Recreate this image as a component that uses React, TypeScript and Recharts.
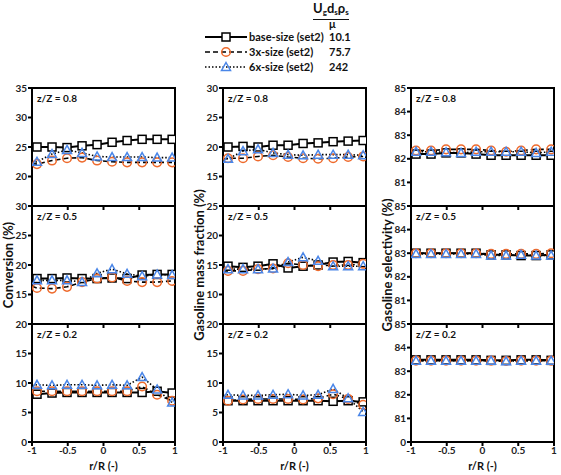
import React from 'react'
import { LineChart, Line, XAxis, YAxis, ReferenceArea } from 'recharts'

// radial positions (first entry is the wall, where the lines start without a marker)
const rPos = [-1, -0.93, -0.72, -0.51, -0.3, -0.09, 0.12, 0.33, 0.54, 0.75, 0.96]
const xTicks = [-1, -0.5, 0, 0.5, 1]

const conv08Base = [25.0, 25.0, 25.0, 24.9, 25.2, 25.4, 25.8, 26.1, 26.3, 26.3, 26.3]
const conv08X3 = [22.2, 22.1, 22.7, 23.1, 23.2, 22.7, 22.5, 22.4, 22.4, 22.4, 22.4]
const conv08X6 = [22.3, 22.5, 23.8, 24.5, 24.0, 23.4, 23.3, 23.3, 23.3, 23.2, 23.2]

const conv05Base = [17.7, 17.7, 17.7, 17.8, 17.7, 17.7, 17.8, 17.7, 18.3, 18.4, 18.4]
const conv05X3 = [16.4, 16.1, 16.0, 16.3, 17.1, 17.7, 17.9, 17.3, 17.1, 17.1, 17.3]
const conv05X6 = [17.3, 17.4, 17.4, 17.4, 17.1, 18.6, 19.3, 18.5, 18.1, 18.4, 18.3]

const conv02Base = [8.3, 8.1, 8.3, 8.4, 8.4, 8.4, 8.4, 8.4, 8.4, 8.6, 8.3]
const conv02X3 = [8.5, 8.6, 8.6, 8.6, 8.6, 8.6, 8.6, 8.6, 9.4, 8.0, 7.0]
const conv02X6 = [9.6, 9.7, 9.6, 9.7, 9.7, 9.6, 9.7, 9.6, 11.0, 8.9, 6.7]

const gmf08Base = [20.0, 20.0, 20.1, 20.0, 20.3, 20.3, 20.6, 20.7, 20.9, 21.0, 21.1]
const gmf08X3 = [17.9, 18.1, 18.1, 18.4, 18.6, 18.3, 18.1, 18.0, 18.1, 18.3, 18.4]
const gmf08X6 = [18.0, 18.0, 19.3, 19.6, 19.0, 18.7, 18.6, 18.7, 18.7, 18.7, 18.6]

const gmf05Base = [14.8, 14.8, 14.6, 14.8, 15.2, 14.5, 14.8, 15.0, 15.5, 15.6, 15.4]
const gmf05X3 = [14.0, 14.0, 14.0, 14.3, 14.4, 15.3, 15.0, 14.8, 15.0, 15.0, 15.2]
const gmf05X6 = [14.4, 14.3, 14.3, 14.3, 14.4, 15.5, 16.3, 15.7, 14.8, 14.8, 14.8]

const gmf02Base = [7.0, 7.0, 7.0, 7.0, 7.0, 7.0, 7.0, 7.0, 6.9, 7.0, 6.8]
const gmf02X3 = [7.0, 7.0, 7.2, 7.3, 7.3, 7.3, 7.2, 7.4, 8.1, 7.3, 6.3]
const gmf02X6 = [7.9, 8.0, 7.9, 7.9, 8.0, 8.1, 7.9, 8.0, 9.0, 7.4, 5.1]

const sel08Base = [82.2, 82.2, 82.2, 82.25, 82.25, 82.2, 82.15, 82.15, 82.15, 82.15, 82.15]
const sel08X3 = [82.35, 82.35, 82.35, 82.4, 82.4, 82.4, 82.35, 82.3, 82.35, 82.4, 82.4]
const sel08X6 = [82.3, 82.3, 82.3, 82.28, 82.25, 82.3, 82.3, 82.3, 82.3, 82.25, 82.3]

const sel05Base = [83.0, 83.0, 83.0, 83.0, 83.0, 83.0, 82.93, 82.93, 82.9, 82.9, 82.93]
const sel05X3 = [83.0, 83.0, 83.0, 83.0, 83.0, 83.0, 82.97, 82.97, 82.97, 82.97, 83.0]
const sel05X6 = [82.97, 82.97, 82.97, 82.97, 82.97, 82.97, 82.9, 82.9, 82.93, 82.9, 82.9]

const sel02Base = [83.48, 83.48, 83.48, 83.48, 83.48, 83.48, 83.46, 83.46, 83.48, 83.48, 83.46]
const sel02X3 = [83.45, 83.45, 83.45, 83.45, 83.45, 83.45, 83.45, 83.43, 83.45, 83.45, 83.45]
const sel02X6 = [83.44, 83.44, 83.44, 83.44, 83.44, 83.44, 83.44, 83.42, 83.44, 83.44, 83.44]

const legendNames = ['base-size (set2)', '3x-size (set2)', '6x-size (set2)']
const legendValues = ['10.1', '75.7', '242']
const heightLabels = ['z/Z = 0.8', 'z/Z = 0.5', 'z/Z = 0.2']
const yTitles = ['Conversion (%)', 'Gasoline mass fraction (%)', 'Gasoline selectivity (%)']

const ORANGE = '#EE6A2C'
const BLUE = '#4A86E8'
const FONT = 'Lato, "Open Sans", sans-serif'

const colX = [32, 223, 411]
const rowY = [88, 206, 324]
const PLOT_W = 143
const PLOT_H = 118

const toRows = (a: number[], b: number[], c: number[]) =>
  rPos.map((r, i) => ({ r, base: a[i], x3: b[i], x6: c[i] }))

const panels = [
  [
    { data: toRows(conv08Base, conv08X3, conv08X6), domain: [15, 35], ticks: [20, 25, 30, 35] },
    { data: toRows(conv05Base, conv05X3, conv05X6), domain: [10, 30], ticks: [15, 20, 25, 30] },
    { data: toRows(conv02Base, conv02X3, conv02X6), domain: [0, 20], ticks: [0, 5, 10, 15, 20] },
  ],
  [
    { data: toRows(gmf08Base, gmf08X3, gmf08X6), domain: [10, 30], ticks: [15, 20, 25, 30] },
    { data: toRows(gmf05Base, gmf05X3, gmf05X6), domain: [5, 25], ticks: [10, 15, 20, 25] },
    { data: toRows(gmf02Base, gmf02X3, gmf02X6), domain: [0, 20], ticks: [0, 5, 10, 15, 20] },
  ],
  [
    { data: toRows(sel08Base, sel08X3, sel08X6), domain: [80, 85], ticks: [81, 82, 83, 84, 85] },
    { data: toRows(sel05Base, sel05X3, sel05X6), domain: [80, 85], ticks: [81, 82, 83, 84, 85] },
    { data: toRows(sel02Base, sel02X3, sel02X6), domain: [80, 85], ticks: [80, 81, 82, 83, 84, 85] },
  ],
]

function Square({ cx, cy }: { cx: number; cy: number }) {
  return <rect x={cx - 4} y={cy - 4} width={8} height={8} fill="#fff" stroke="#000" strokeWidth={1.5} />
}
function Circle({ cx, cy }: { cx: number; cy: number }) {
  return <circle cx={cx} cy={cy} r={4.3} fill="none" stroke={ORANGE} strokeWidth={1.5} />
}
function Tri({ cx, cy }: { cx: number; cy: number }) {
  return (
    <polygon
      points={`${cx},${cy - 4.5} ${cx + 4.5},${cy + 3.5} ${cx - 4.5},${cy + 3.5}`}
      fill="none"
      stroke={BLUE}
      strokeWidth={1.5}
    />
  )
}

const makeDot = (Shape: typeof Square) => (p: any) =>
  p.index === 0 || p.cx == null ? (
    <g key={`e${p.index}`} />
  ) : (
    <g key={`d${p.index}`}>
      <Shape cx={p.cx} cy={p.cy} />
    </g>
  )

const tickStyle = { fontSize: 10, fontWeight: 700, fill: '#222', fontFamily: FONT }

function Panel({ col, row }: { col: number; row: number }) {
  const p = panels[col][row]
  const bottom = row === 2
  const xAxisH = bottom ? 22 : 6
  const left = colX[col] - 30
  const top = rowY[row] - 8
  return (
    <div style={{ position: 'absolute', left, top }}>
      <LineChart
        width={30 + PLOT_W + 8}
        height={8 + PLOT_H + xAxisH}
        data={p.data}
        margin={{ top: 8, right: 8, left: 0, bottom: 0 }}
        style={{ overflow: 'visible' }}
      >
        <XAxis
          dataKey="r"
          type="number"
          domain={[-1, 1]}
          ticks={xTicks}
          height={xAxisH}
          tickSize={4}
          tickMargin={1}
          stroke="#000"
          strokeWidth={2}
          tick={tickStyle}
          tickFormatter={(v: number) => (bottom ? String(v) : '')}
          allowDataOverflow
        />
        <YAxis
          type="number"
          domain={p.domain}
          ticks={p.ticks}
          width={30}
          tickSize={4}
          tickMargin={1}
          stroke="#000"
          strokeWidth={2}
          tick={tickStyle}
          tickFormatter={(v: number) => (col === 2 && v === 80 ? '0' : String(v))}
          interval={0}
          allowDataOverflow
        />
        <ReferenceArea
          x1={-1}
          x2={1}
          y1={p.domain[0]}
          y2={p.domain[1]}
          fill="none"
          stroke="#000"
          strokeWidth={2}
          ifOverflow="visible"
        />
        <Line
          dataKey="base"
          stroke="#000"
          strokeWidth={2}
          dot={makeDot(Square)}
          isAnimationActive={false}
        />
        <Line
          dataKey="x3"
          stroke="#000"
          strokeWidth={1.6}
          strokeDasharray="5 3"
          dot={makeDot(Circle)}
          isAnimationActive={false}
        />
        <Line
          dataKey="x6"
          stroke="#000"
          strokeWidth={1.6}
          strokeDasharray="1.5 2"
          dot={makeDot(Tri)}
          isAnimationActive={false}
        />
      </LineChart>
      <div
        style={{
          position: 'absolute',
          left: 30 + 5,
          top: 8 + 4,
          fontSize: 10,
          fontWeight: 700,
          fontFamily: FONT,
          color: '#111',
          whiteSpace: 'nowrap',
        }}
      >
        {heightLabels[row]}
      </div>
    </div>
  )
}

function LegendRow({ i }: { i: number }) {
  const y = [37, 52, 67][i]
  const dash = ['', '5 3', '1.5 2'][i]
  const Shape = [Square, Circle, Tri][i]
  const label = {
    position: 'absolute' as const,
    top: y - 6,
    fontSize: 11,
    lineHeight: '12px',
    fontWeight: 700,
    fontFamily: FONT,
    color: '#111',
    whiteSpace: 'nowrap' as const,
  }
  return (
    <>
      <svg style={{ position: 'absolute', left: 203, top: y - 7, overflow: 'visible' }} width={44} height={14}>
        <line x1={2} y1={7} x2={44} y2={7} stroke="#000" strokeWidth={i === 0 ? 2 : 1.6} strokeDasharray={dash} />
        <Shape cx={23} cy={7} />
      </svg>
      <div style={{ ...label, left: 249 }}>{legendNames[i]}</div>
      <div style={{ ...label, left: 329 }}>{legendValues[i]}</div>
    </>
  )
}

export default function App() {
  const text = { fontFamily: FONT, fontWeight: 700, color: '#111', whiteSpace: 'nowrap' as const }
  const sub = { fontSize: 8, position: 'relative' as const, top: 2 }
  return (
    <div style={{ position: 'absolute', left: 0, top: 0, width: 561, height: 475, background: '#fff', overflow: 'hidden' }}>
      {/* legend header: dimensionless group Ug ds ρs / μ */}
      <div
        style={{
          ...text,
          position: 'absolute',
          left: 313,
          top: 2,
          fontSize: 13,
          lineHeight: '13px',
          paddingBottom: 2,
          borderBottom: '1.5px solid #111',
        }}
      >
        U<span style={sub}>g</span>d<span style={sub}>s</span>ρ<span style={sub}>s</span>
      </div>
      <div style={{ ...text, position: 'absolute', left: 329, top: 19, fontSize: 11, lineHeight: '10px' }}>μ</div>
      {[0, 1, 2].map((i) => (
        <LegendRow key={i} i={i} />
      ))}

      {[0, 1, 2].map((c) => [0, 1, 2].map((r) => <Panel key={`${c}-${r}`} col={c} row={r} />))}

      {yTitles.map((t, c) => (
        <div
          key={t}
          style={{
            ...text,
            position: 'absolute',
            left: [8, 199, 387][c],
            top: 265,
            fontSize: 13,
            transform: 'translate(-50%, -50%) rotate(-90deg)',
          }}
        >
          {t}
        </div>
      ))}
      {colX.map((x) => (
        <div
          key={x}
          style={{
            ...text,
            position: 'absolute',
            left: x + PLOT_W / 2,
            top: 465,
            fontSize: 11,
            transform: 'translate(-50%, -50%)',
          }}
        >
          r/R (-)
        </div>
      ))}
    </div>
  )
}
